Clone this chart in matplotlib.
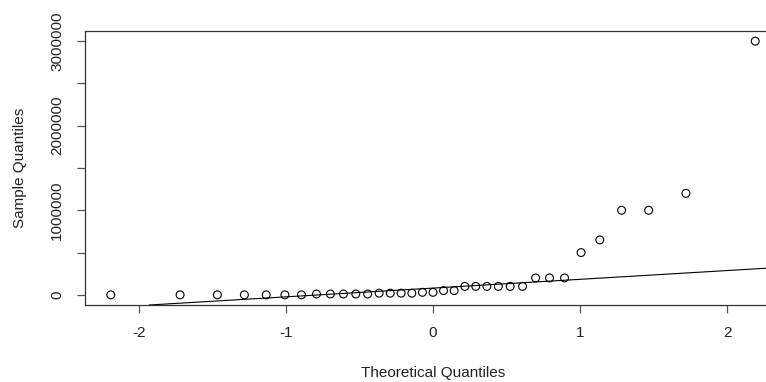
import numpy as np
import matplotlib
matplotlib.use("Agg")
import matplotlib.pyplot as plt
from statistics import NormalDist

# Sorted sample values
sample = [0, 0, 0, 0, 0, 0, 0,
          10000, 10000, 10000, 10000, 10000,
          20000, 20000, 20000, 20000,
          30000, 30000,
          50000, 50000,
          100000, 100000, 100000, 100000, 100000, 100000,
          200000, 200000, 200000,
          500000, 650000, 1000000, 1000000, 1200000, 3000000]

x_ticks = [-2, -1, 0, 1, 2]
y_ticks = [0, 500000, 1000000, 1500000, 2000000, 2500000, 3000000]
y_ticklabels = ["0", "", "1000000", "", "2000000", "", "3000000"]
x_label = "Theoretical Quantiles"
y_label = "Sample Quantiles"

plt.rcParams['font.family'] = ['Liberation Sans', 'DejaVu Sans']

y = np.sort(np.array(sample, dtype=float))
n = len(y)
a = 3/8 if n <= 10 else 0.5
p = (np.arange(1, n + 1) - a) / (n + 1 - 2 * a)
nd = NormalDist()
x = np.array([nd.inv_cdf(v) for v in p])

# qqline like R (type 7 quartiles)
q1, q3 = np.quantile(y, [0.25, 0.75])
z1, z3 = nd.inv_cdf(0.25), nd.inv_cdf(0.75)
slope = (q3 - q1) / (z3 - z1)
intercept = q1 - slope * z1

W, H = 766, 382
fig = plt.figure(figsize=(W / 100, H / 100), dpi=100)
left, right, top, bottom = 85, 781, 31, 305
ax = fig.add_axes([left / W, (H - bottom) / H, (right - left) / W, (bottom - top) / H])

ax.scatter(x, y, s=32, facecolors='none', edgecolors='black', linewidths=0.8, zorder=3)
ax.axline((0, intercept), slope=slope, color='black', lw=0.8)

xr = x.max() - x.min()
yr = y.max() - y.min()
ax.set_xlim(x.min() - 0.04 * xr, x.max() + 0.04 * xr)
ax.set_ylim(y.min() - 0.04 * yr, y.max() + 0.04 * yr)

ax.set_xticks(x_ticks)
ax.set_xticklabels([str(t) for t in x_ticks])
ax.set_yticks(y_ticks)
ax.set_yticklabels(y_ticklabels, rotation=90, va='center')

for s in ax.spines.values():
    s.set_linewidth(0.9)
    s.set_color('#333333')
ax.tick_params(axis='both', length=6, width=0.9, color='#555555', labelsize=11, labelcolor='#222222', pad=9)

ax.set_xlabel(x_label, fontsize=11, color='#222222', labelpad=19)
ax.set_ylabel(y_label, fontsize=11, color='#222222', labelpad=17)

fig.savefig("out.png", dpi=100)
